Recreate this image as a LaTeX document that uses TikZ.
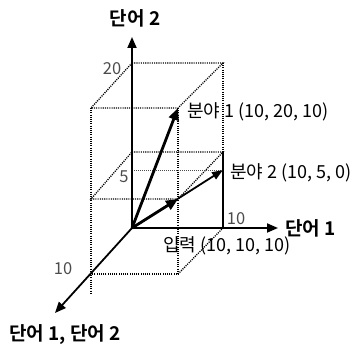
\documentclass[tikz,border=0pt]{standalone}
\usepackage{fontspec}
\setmainfont{Noto Sans CJK KR}[BoldFont={Noto Sans CJK KR Bold}]
\usetikzlibrary{arrows.meta}
\begin{document}
\begin{tikzpicture}[x=1pt,y=1pt,
  dots/.style={dash pattern=on 1.1pt off 1.1pt, line width=1.3pt},
  thindots/.style={dash pattern=on 1pt off 1pt, line width=0.7pt, black!70},
  axis/.style={line width=1.8pt, -{Triangle[length=11pt,width=9pt]}},
  vec/.style={line width=2.8pt, -{Triangle[length=12pt,width=10pt]}},
  vecthin/.style={line width=1.8pt, -{Triangle[length=11pt,width=8pt]}},
  lab/.style={font=\fontsize{18}{20}\selectfont, inner sep=0pt},
  axlab/.style={font=\bfseries\fontsize{19}{21}\selectfont, inner sep=0pt},
  num/.style={font=\fontsize{16.5}{18}\selectfont, text=black!70, inner sep=0pt}]
\useasboundingbox (0,0) rectangle (359,350);
% points
\coordinate (O) at (132,122);
\coordinate (Ytip) at (132,313);
\coordinate (Xtip) at (278,122);
\coordinate (Ztip) at (55,37);
\coordinate (A) at (132,287);
\coordinate (B) at (223,287);
\coordinate (C) at (91,242);
\coordinate (D) at (178,242);
\coordinate (E) at (223,122);
\coordinate (F) at (91,76);
\coordinate (Fe) at (91,57);
\coordinate (G) at (178,76);
\coordinate (H) at (132,198);
\coordinate (I) at (223,198);
\coordinate (J) at (91,151);
\coordinate (K) at (178,151);
\coordinate (P) at (132,180);
\coordinate (Q) at (223,180);
% dotted box
\draw[dots] (A) -- (B) -- (D) -- (C) -- (A);
\draw[dots] (B) -- (I);
\draw[dots] (C) -- (Fe);
\draw[dots] (D) -- (G) -- (F);
\draw[dots] (G) -- (E);
\draw[dots] (H) -- (I) -- (K) -- (J) -- (H);
\draw[thindots] (P) -- (Q);
\draw[line width=1.1pt] (I) -- (E);
% axes
\draw[axis] (O) -- (Ytip);
\draw[axis] (O) -- (Xtip);
\draw[axis] (O) -- (Ztip);
% vectors
\draw[vecthin] (O) -- (Q);
\draw[vec] (O) -- (D);
\draw[vec] (O) -- (K);
% labels
\node[axlab] (ly) at (135,332) {단어 2};
\node[axlab, anchor=west] (lx) at (285,122) {단어 1};
\node[axlab] (lz) at (65,15) {단어 1, 단어 2};
\node[num] (n20) at (112,281) {20};
\node[num] (n5) at (124,173) {5};
\node[num] (n10z) at (63,81) {10};
\node[num] (n10x) at (236,131) {10};
\node[lab, anchor=west] (l1) at (187,238) {분야 1 (10, 20, 10)};
\node[lab, anchor=west] (l2) at (230,177) {분야 2 (10, 5, 0)};
\node[lab, anchor=west] (l3) at (163,104) {입력 (10, 10, 10)};
\end{tikzpicture}
\end{document}
